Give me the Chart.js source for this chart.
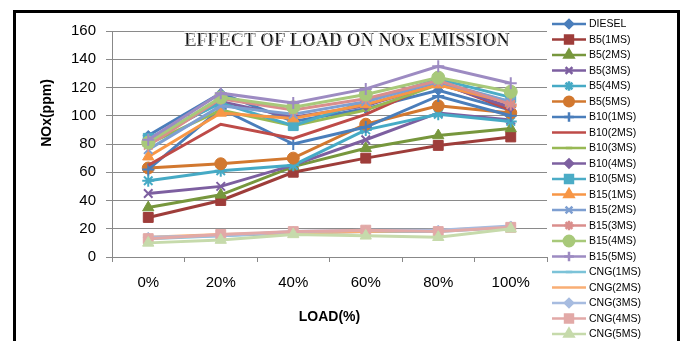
<!DOCTYPE html>
<html>
<head>
<meta charset="utf-8">
<script src="https://cdn.jsdelivr.net/npm/chart.js@4.4.0/dist/chart.umd.min.js"></script>
<style>
  html, body { margin: 0; padding: 0; background: #fff; overflow: hidden; }
  canvas { display: block; }
</style>
</head>
<body>
<canvas id="nox" width="683" height="341"></canvas>
<script>
// Engine load steps (x axis)
const loads = ['0%', '20%', '40%', '60%', '80%', '100%'];

// NOx emission (ppm) per fuel / injection mode
const seriesNames = [
  'DIESEL',
  'B5(1MS)', 'B5(2MS)', 'B5(3MS)', 'B5(4MS)', 'B5(5MS)',
  'B10(1MS)', 'B10(2MS)', 'B10(3MS)', 'B10(4MS)', 'B10(5MS)',
  'B15(1MS)', 'B15(2MS)', 'B15(3MS)', 'B15(4MS)', 'B15(5MS)',
  'CNG(1MS)', 'CNG(2MS)', 'CNG(3MS)', 'CNG(4MS)', 'CNG(5MS)'
];

const diesel  = [86, 116, 96, 105, 118, 104];

const b5_1ms  = [28, 40, 60, 70, 79, 85];
const b5_2ms  = [35, 44, 64, 77, 86, 91];
const b5_3ms  = [45, 50, 65, 83, 102, 97];
const b5_4ms  = [54, 61, 65, 90, 101, 96];
const b5_5ms  = [63, 66, 70, 94, 107, 102];

const b10_1ms = [62, 105, 80, 92, 114, 100];
const b10_2ms = [65, 94, 84, 101, 124, 104];
const b10_3ms = [80, 104, 93, 104, 122, 110];
const b10_4ms = [82, 110, 99, 107, 123, 106];
const b10_5ms = [84, 109, 93, 110, 126, 113];

const b15_1ms = [71, 102, 98, 108, 122, 109];
const b15_2ms = [76, 107, 101, 110, 124, 110];
const b15_3ms = [79, 112, 104, 112, 125, 108];
const b15_4ms = [81, 113, 106, 115, 127, 117];
const b15_5ms = [83, 116, 109, 119, 135, 123];

const cng_1ms = [13, 15, 17, 18, 18, 21];
const cng_2ms = [14, 16, 17, 18, 19, 21];
const cng_3ms = [14, 15, 18, 19, 19, 22];
const cng_4ms = [13, 16, 18, 19, 18, 21];
const cng_5ms = [10, 12, 16, 15, 14, 20];

const seriesValues = [
  diesel,
  b5_1ms, b5_2ms, b5_3ms, b5_4ms, b5_5ms,
  b10_1ms, b10_2ms, b10_3ms, b10_4ms, b10_5ms,
  b15_1ms, b15_2ms, b15_3ms, b15_4ms, b15_5ms,
  cng_1ms, cng_2ms, cng_3ms, cng_4ms, cng_5ms
];

// Y axis range
const yMin = 0, yMax = 160, yStep = 20;

// Line colour, marker style, marker radius for each series
const seriesStyles = [
  ['#4A7EBB', 'rectRot', 5],
  ['#9E3D3A', 'rect', 7],
  ['#77973D', 'triangle', 6.5],
  ['#7D5FA0', 'crossRot', 6],
  ['#46AAC5', 'star', 6],
  ['#D2782F', 'circle', 6],
  ['#4A7EBB', 'cross', 6],
  ['#BE4B48', false, 0],
  ['#98B954', 'line', 4],
  ['#7D60A0', 'rectRot', 5],
  ['#4BACC6', 'rect', 7],
  ['#F79646', 'triangle', 6.5],
  ['#7E9FD1', 'crossRot', 6],
  ['#DA8E8C', 'star', 6],
  ['#A8C97A', 'circle', 6.5],
  ['#9D8BC2', 'cross', 6],
  ['#7CC3D8', 'line', 4],
  ['#F9AE74', false, 0],
  ['#A7BCE0', 'rectRot', 5],
  ['#E2A9A7', 'rect', 7],
  ['#C6DAAB', 'triangle', 6.5]
];

const N = seriesNames.length;
const datasets = seriesNames.map((name, i) => {
  const [color, style, r] = seriesStyles[i];
  return {
    label: name,
    data: seriesValues[i],
    borderColor: color,
    backgroundColor: color,
    borderWidth: 3,
    pointStyle: style,
    pointRadius: style ? r : 0,
    pointHoverRadius: style ? r : 0,
    pointBackgroundColor: color,
    pointBorderColor: color,
    pointBorderWidth: (style === 'crossRot' || style === 'cross' || style === 'star' || style === 'line') ? 2 : 1,
    tension: 0,
    fill: false,
    order: N - i   // later series sit on top
  };
});

// Marker drawing for the legend keys (falls back to simple shapes)
function drawMarker(ctx, style, r, x, y) {
  if (!style) return;
  if (Chart.helpers && Chart.helpers.drawPoint) {
    Chart.helpers.drawPoint(ctx, { pointStyle: style, radius: r, rotation: 0, borderWidth: 1.5 }, x, y);
    return;
  }
  ctx.beginPath();
  ctx.arc(x, y, r, 0, Math.PI * 2);
  ctx.fill();
}

const decorations = {
  id: 'decorations',
  afterDraw(chart) {
    const ctx = chart.ctx;
    const area = chart.chartArea;
    ctx.save();

    // Title inside the plot
    ctx.font = 'bold 19px "Liberation Serif", "DejaVu Serif", serif';
    ctx.textAlign = 'center';
    ctx.textBaseline = 'middle';
    const title = 'EFFECT OF LOAD ON NOx EMISSION';
    const w = ctx.measureText(title).width;
    const target = 325;
    ctx.save();
    ctx.translate(347, 41);
    ctx.scale(target / w, 1);
    ctx.fillStyle = '#111';
    ctx.fillText(title, 0, 0);
    ctx.lineWidth = 0.6;
    ctx.strokeStyle = '#fff';
    ctx.strokeText(title, -0.6, -0.6);
    ctx.restore();

    // Y axis title
    ctx.save();
    ctx.translate(47, 113);
    ctx.rotate(-Math.PI / 2);
    ctx.font = 'bold 14px "Liberation Sans", Arial, sans-serif';
    ctx.fillStyle = '#000';
    ctx.fillText('NOx(ppm)', 0, 0);
    ctx.restore();

    // Legend
    ctx.fillStyle = '#fff';
    ctx.fillRect(548, 13, 129, 330);
    const lx0 = 552, lx1 = 586, mx = 569, tx = 589;
    ctx.font = '10.5px "Liberation Sans", Arial, sans-serif';
    ctx.textAlign = 'left';
    ctx.textBaseline = 'middle';
    chart.data.datasets.forEach((ds, i) => {
      const y = 24 + i * 15.5;
      ctx.strokeStyle = ds.borderColor;
      ctx.lineWidth = 2.5;
      ctx.beginPath();
      ctx.moveTo(lx0, y);
      ctx.lineTo(lx1, y);
      ctx.stroke();
      ctx.fillStyle = ds.borderColor;
      ctx.strokeStyle = ds.borderColor;
      drawMarker(ctx, ds.pointStyle, ds.pointRadius ? ds.pointRadius * 0.8 : 0, mx, y);
      ctx.fillStyle = '#000';
      ctx.fillText(ds.label, tx, y + 0.5);
    });

    // Outer frame
    ctx.strokeStyle = '#000';
    ctx.lineWidth = 3;
    ctx.strokeRect(14.5, 11.5, 664, 400);
    ctx.restore();
  }
};

new Chart(document.getElementById('nox'), {
  type: 'line',
  data: { labels: loads, datasets },
  plugins: [decorations],
  options: {
    responsive: false,
    animation: false,
    devicePixelRatio: 1,
    layout: { padding: { left: 0, top: 31, right: 136, bottom: 0 } },
    plugins: {
      legend: { display: false },
      tooltip: { enabled: false },
      title: { display: false }
    },
    scales: {
      x: {
        offset: true,
        afterFit(scale) { scale.height = 84; },
        grid: {
          offset: true,
          drawOnChartArea: false,
          drawTicks: true,
          tickLength: 5,
          color: '#888'
        },
        border: { display: true, color: '#888', width: 1 },
        ticks: {
          color: '#000',
          padding: 12,
          font: { family: '"Liberation Sans", Arial, sans-serif', size: 15 },
          maxRotation: 0
        },
        title: {
          display: true,
          text: 'LOAD(%)',
          color: '#000',
          font: { family: '"Liberation Sans", Arial, sans-serif', size: 14, weight: 'bold' },
          padding: { top: 4, bottom: 15 }
        }
      },
      y: {
        min: yMin,
        max: yMax,
        afterFit(scale) { scale.width = 112; },
        grid: {
          color: '#8a8a8a',
          lineWidth: 1,
          drawTicks: true,
          tickLength: 6
        },
        border: { display: true, color: '#888', width: 1 },
        ticks: {
          stepSize: yStep,
          color: '#000',
          padding: 10,
          font: { family: '"Liberation Sans", Arial, sans-serif', size: 15 }
        }
      }
    }
  }
});
</script>
</body>
</html>
